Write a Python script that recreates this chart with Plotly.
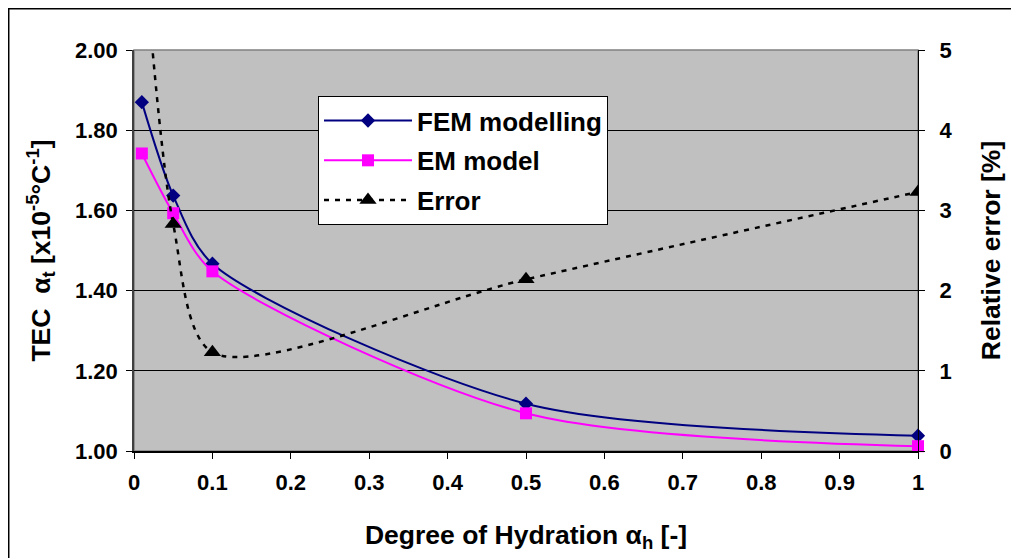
import plotly.graph_objects as go

# Data
hydration = [0.01, 0.05, 0.1, 0.5, 1.0]
fem_tec = [1.870, 1.637, 1.467, 1.118, 1.038]
em_tec = [1.742, 1.593, 1.448, 1.094, 1.012]
rel_error = [6.6, 2.83, 1.23, 2.14, 3.23]

FONT = "Liberation Sans, Arial, sans-serif"
TICK = 22
TITLE = 26.5

fig = go.Figure()
fig.add_trace(go.Scatter(
    x=hydration, y=fem_tec, name="FEM modelling", mode="lines+markers",
    legendgroup="fem",
    line=dict(color="#000080", width=2, shape="spline", smoothing=0.8),
    marker=dict(symbol="diamond", size=11, color="#000080"),
    yaxis="y", cliponaxis=False))
fig.add_trace(go.Scatter(
    x=hydration, y=em_tec, name="EM model", mode="lines+markers",
    legendgroup="em",
    line=dict(color="#FF00FF", width=2, shape="spline", smoothing=0.8),
    marker=dict(symbol="square", size=12, color="#FF00FF"),
    yaxis="y", cliponaxis=False))
fig.add_trace(go.Scatter(
    x=hydration, y=rel_error, name="Error", mode="lines+markers",
    legendgroup="err",
    line=dict(color="black", width=2.5, shape="spline", smoothing=0.8, dash="5px,6px"),
    marker=dict(symbol="triangle-up", size=15, color="black"),
    yaxis="y2"))

fig.update_layout(
    width=1011, height=550,
    margin=dict(l=126, r=101, t=42, b=107),
    paper_bgcolor="white", plot_bgcolor="#C0C0C0",
    font=dict(family=FONT, color="black", size=TICK, weight="bold"),
    showlegend=True,
    legend=dict(
        x=0.2347, y=0.885, xanchor="left", yanchor="top",
        bgcolor="white", bordercolor="black", borderwidth=1,
        font=dict(size=26, family=FONT, weight="bold"),
        itemwidth=88, tracegroupgap=3,
    ),
    xaxis=dict(
        range=[0, 1], dtick=0.1, tick0=0, showgrid=False, zeroline=False,
        showline=True, linecolor="black", linewidth=1.5,
        ticks="outside", ticklen=6, tickcolor="black", ticklabelstandoff=5,
        tickfont=dict(size=TICK, family=FONT, weight="bold"),
        title=dict(text="Degree of Hydration α<sub>h</sub> [-]", standoff=31,
                   font=dict(size=TITLE, family=FONT, weight="bold")),
    ),
    yaxis=dict(
        range=[1, 2], dtick=0.2, tick0=1, tickformat=".2f",
        showgrid=True, gridcolor="black", gridwidth=1, zeroline=False,
        showline=True, linecolor="#404040", linewidth=1.5,
        ticks="outside", ticklen=6, tickcolor="black", ticklabelstandoff=4,
        tickfont=dict(size=TICK, family=FONT, weight="bold"),
        title=dict(text="TEC  α<sub>t</sub> [x10<sup>-5</sup>°C<sup>-1</sup>]", standoff=17,
                   font=dict(size=TITLE, family=FONT, weight="bold")),
    ),
    yaxis2=dict(
        range=[0, 5], dtick=1, tick0=0, overlaying="y", side="right",
        showgrid=False, zeroline=False,
        showline=True, linecolor="black", linewidth=1,
        ticks="outside", ticklen=6, tickcolor="black", ticklabelstandoff=10,
        tickfont=dict(size=TICK, family=FONT, weight="bold"),
        title=dict(text="Relative error [%]", standoff=30,
                   font=dict(size=TITLE, family=FONT, weight="bold")),
    ),
    shapes=[
        dict(type="rect", xref="paper", yref="paper", x0=0, x1=1, y0=0, y1=1,
             line=dict(color="#808080", width=1.5), layer="below"),
        dict(type="rect", xref="paper", yref="paper", x0=-0.1601, x1=1.15, y0=-0.30, y1=1.1035,
             line=dict(color="black", width=2), layer="above"),
    ],
)

fig.write_html("out.html")
